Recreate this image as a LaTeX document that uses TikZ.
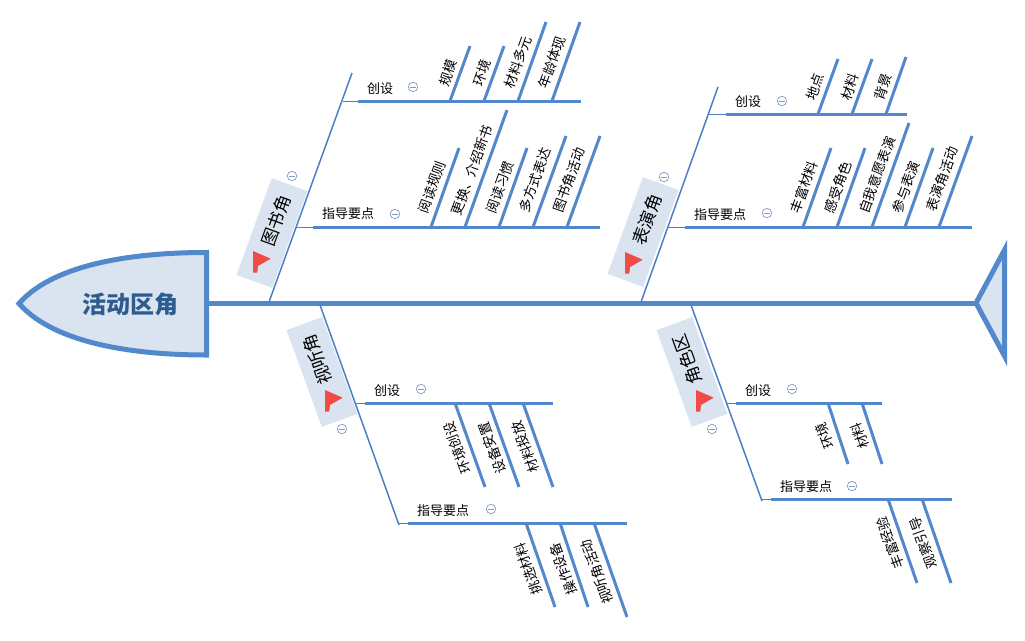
\documentclass[tikz,border=0pt]{standalone}
\usepackage{fontspec}
\setmainfont{Noto Sans CJK SC}
\usepackage{tikz}
\usetikzlibrary{positioning}
\definecolor{fishblue}{HTML}{5288CC}
\definecolor{boneblue}{HTML}{4E7FC4}
\definecolor{boxfill}{HTML}{DAE4F0}
\definecolor{headtext}{HTML}{2F5C8F}
\definecolor{minusblue}{HTML}{7F9CC2}
\definecolor{flagred}{HTML}{F04C45}
\tikzset{
	spine/.style={draw=fishblue, line width=5pt},
	bone/.style={draw=boneblue, line width=1.5pt},
	thinline/.style={draw=boneblue, line width=1pt},
	subline/.style={draw=fishblue, line width=3pt},
	rib/.style={draw=fishblue, line width=3pt},
	ribtext/.style={font=\fontsize{13.5}{14}\selectfont, inner sep=0pt},
	subtext/.style={font=\fontsize{13}{13}\selectfont, inner sep=0pt},
	boxlabel/.style={fill=boxfill, font=\fontsize{17.5}{18}\selectfont, text width=79pt, align=right, inner xsep=12pt, inner ysep=0pt, minimum height=38pt},
	minusmark/.style={circle, draw=minusblue, line width=0.7pt, minimum size=9.5pt, inner sep=0pt,
		path picture={\draw[minusblue, line width=0.7pt] ([xshift=2.2pt]path picture bounding box.west) -- ([xshift=-2.2pt]path picture bounding box.east);}},
	flagmark/.pic={\fill[flagred] (0,0) -- (17.7,7.7) -- (5,15) -- (4.3,21.7) -- (0,21.7) -- cycle;}
}
\begin{document}
\begin{tikzpicture}[x=1pt, y=-1pt]
	\useasboundingbox (0,0) rectangle (1025,640);
	\coordinate (headtop) at (206.5,252.5);
	\coordinate (headtip) at (19,303.5);
	\coordinate (headbot) at (206.5,355);
	\coordinate (spinea) at (209,303);
	\coordinate (spineb) at (976,303);
	\draw[spine, fill=boxfill, miter limit=10] (headtop) .. controls (120,252.5) and (50,268) .. (headtip) .. controls (50,339) and (120,355) .. (headbot) -- cycle;
	\node[font=\fontsize{24}{24}\selectfont\bfseries, text=headtext, inner sep=0pt] (head) at (130,304) {活动区角};
	\begin{scope}
		\clip (960,230) rectangle (1007,375);
		\coordinate (tailtop) at (1004.5,250);
		\coordinate (tailbot) at (1004.5,356);
		\draw[spine, fill=boxfill, miter limit=10] (spineb) -- (tailtop) -- (tailbot) -- cycle;
	\end{scope}
	\draw[spine] (spinea) -- (spineb);

	\foreach \name/\x/\y/\ang/\txt in {tushu/272/233/70/图书角, biaoyan/643/232/70/表演角, shiting/322/372/110/视听角, juese/692/372/110/角色区}
		\node[boxlabel, rotate=\ang] (\name) at (\x,\y) {\txt};
	\foreach \x/\y in {253/251, 625/252, 325/390, 696/390}
		\pic at (\x,\y) {flagmark};

	\foreach \name/\ax/\ay/\bx/\by in {tushu/269/302/352/73, biaoyan/641/302/718/87, shiting/320/305/399/525, juese/691/305/762/501} {
		\coordinate (\name a) at (\ax,\ay);
		\coordinate (\name b) at (\bx,\by);
		\draw[bone] (\name a) -- (\name b);
	}

	\foreach \name/\ax/\bx/\cx/\y/\lx/\ly/\mx/\my/\txt in {
		tsa/343/358/581/101/380/89/413/87/创设,
		tsb/296/313/600/227/348/214/395/214/指导要点,
		bya/709/726/907/114/748/102/782/101/创设,
		byb/668/685/972/227/720/215/767/213/指导要点,
		sta/356/365/553/403/387/391/421/389/创设,
		stb/399/408/627/523/443/511/491/509/指导要点,
		jsa/726/736/882/403/758/391/792/389/创设,
		jsb/762/771/952/499/806/487/852/486/指导要点} {
		\coordinate (\name a) at (\ax,\y);
		\coordinate (\name b) at (\bx,\y);
		\coordinate (\name c) at (\cx,\y);
		\draw[thinline] (\name a) -- (\name b);
		\draw[subline] (\name b) -- (\name c);
		\node[subtext] (\name t) at (\lx,\ly) {\txt};
		\node[minusmark] (\name m) at (\mx,\my) {};
	}
	\foreach \name/\x/\y in {tsm/292/176, bym/664/177, stm/342/429, jsm/712/429}
		\node[minusmark] (\name) at (\x,\y) {};

	\foreach \name/\ax/\ay/\bx/\by/\lx/\ly/\txt in {
		ra/450/101/470/46/448/73/规模,
		rb/484/101/504/46/482/73/环境,
		rc/518/101/546/22/518/62/材料多元,
		rd/552/101/580/22/552/62/年龄体现,
		re/431/227/459/148/432/187/阅读规则,
		rf/465/227/507/110/472/170/更换、介绍新书,
		rg/499/227/527/148/500/187/阅读习惯,
		rh/533/227/566/136/535/180/多方式表达,
		ri/567/227/600/136/569/180/图书角活动,
		rj/818/114/838/59/815/87/地点,
		rk/852/114/872/59/850/87/材料,
		rl/886/114/906/57/883/87/背景,
		rm/803/227/831/148/804/187/丰富材料,
		rn/837/227/865/148/838/187/感受角色,
		ro/872/227/909/123/877/175/自我意愿表演,
		rp/905/227/933/148/906/187/参与表演,
		rq/939/227/972/136/942/179/表演角活动} {
		\coordinate (\name a) at (\ax,\ay);
		\coordinate (\name b) at (\bx,\by);
		\draw[rib] (\name a) -- (\name b);
		\node[ribtext, rotate=70] (\name t) at (\lx,\ly) {\txt};
	}
	\foreach \name/\ax/\ay/\bx/\by/\lx/\ly/\txt in {
		sa/455/403/485/487/457/448/环境创设,
		sb/489/403/519/487/492/448/设备安置,
		sc/523/403/553/487/525/447/材料投放,
		sd/526/523/555/607/528/569/挑选材料,
		se/560/523/588/607/563/569/操作设备,
		sf/594/523/627/617/597/572/视听角活动,
		sg/828/403/848/464/825/436/环境,
		sh/862/403/882/464/860/436/材料,
		si/888/499/917/583/890/543/丰富经验,
		sj/922/499/951/583/923/543/观察引导} {
		\coordinate (\name a) at (\ax,\ay);
		\coordinate (\name b) at (\bx,\by);
		\draw[rib] (\name a) -- (\name b);
		\node[ribtext, rotate=110] (\name t) at (\lx,\ly) {\txt};
	}
\end{tikzpicture}
\end{document}
